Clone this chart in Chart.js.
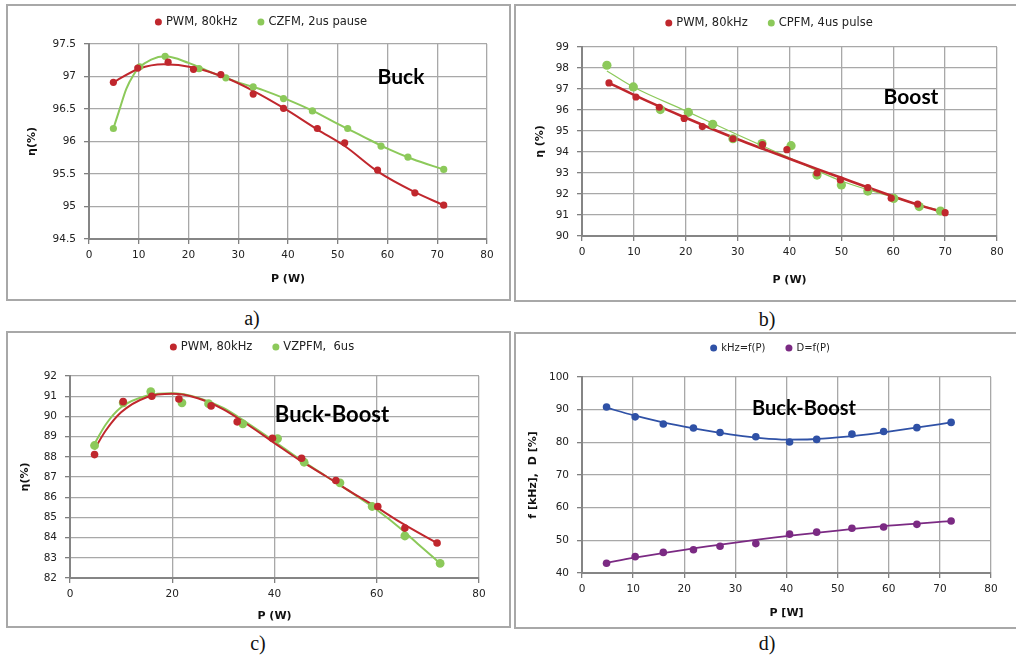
<!DOCTYPE html>
<html>
<head>
<meta charset="utf-8">
<script src="https://cdn.jsdelivr.net/npm/chart.js@4/dist/chart.umd.min.js"></script>
<style>
  body { margin: 0; background: #fff; width: 1016px; height: 657px; overflow: hidden; position: relative; }
  .box { position: absolute; border: 2px solid #a8a8a8; box-sizing: border-box; }
  canvas { position: absolute; }
  .cap { position: absolute; font-family: "Liberation Serif", serif; font-size: 20px; color: #111; transform: translate(-50%, -50%); }
</style>
</head>
<body>
<div class="box" style="left:6px;top:4px;width:505px;height:297px"></div>
<div class="box" style="left:514px;top:4px;width:510px;height:298px"></div>
<div class="box" style="left:6px;top:331px;width:505px;height:297px"></div>
<div class="box" style="left:514px;top:332px;width:510px;height:297px"></div>

<canvas id="cA" width="505" height="297" style="left:6px;top:4px"></canvas>
<canvas id="cB" width="502" height="298" style="left:514px;top:4px"></canvas>
<canvas id="cC" width="505" height="297" style="left:6px;top:331px"></canvas>
<canvas id="cD" width="502" height="297" style="left:514px;top:332px"></canvas>

<div class="cap" style="left:252px;top:318px">a)</div>
<div class="cap" style="left:767px;top:319px">b)</div>
<div class="cap" style="left:258px;top:643px">c)</div>
<div class="cap" style="left:767px;top:643px">d)</div>

<script>
// a) Buck
const buckP_pwm = [4.9, 9.8, 15.9, 21.0, 26.5, 33.0, 39.1, 45.9, 51.4, 58.0, 65.5, 71.3];
const buckEff_pwm = [96.91, 97.13, 97.22, 97.11, 97.03, 96.73, 96.51, 96.20, 95.98, 95.56, 95.21, 95.02];
const buckP_czfm = [4.9, 10.2, 15.3, 22.1, 27.5, 33.0, 39.1, 44.9, 52.0, 58.7, 64.1, 71.3];
const buckEff_czfm = [96.20, 97.15, 97.31, 97.12, 96.98, 96.84, 96.66, 96.47, 96.20, 95.93, 95.76, 95.57];
// trendlines
const buckTrendP_pwm = [4.9, 10, 15, 21, 27.5, 33, 39, 46, 51.4, 58, 65.5, 71.3];
const buckTrendEff_pwm = [96.91, 97.12, 97.19, 97.14, 96.98, 96.78, 96.52, 96.18, 95.93, 95.54, 95.22, 95.02];
const buckTrendP_czfm = [4.9, 6, 7.5, 9, 10, 12.5, 15.3, 20, 25, 30, 35, 40, 45, 50, 55, 60, 65, 71.3];
const buckTrendEff_czfm = [96.20, 96.46, 96.81, 97.03, 97.13, 97.26, 97.31, 97.21, 97.05, 96.91, 96.79, 96.64, 96.47, 96.27, 96.08, 95.89, 95.73, 95.57];

// b) Boost
const boostP_pwm = [5.2, 10.4, 14.9, 19.7, 23.2, 29.1, 34.8, 39.5, 45.3, 49.8, 55.1, 59.6, 64.7, 70.0];
const boostEff_pwm = [97.29, 96.62, 96.13, 95.60, 95.21, 94.63, 94.35, 94.11, 93.00, 92.67, 92.30, 91.80, 91.52, 91.11];
const boostP_cpfm = [4.8, 9.9, 15.1, 20.5, 25.2, 29.1, 34.7, 40.3, 45.3, 50.0, 55.1, 60.1, 65.0, 69.1];
const boostEff_cpfm = [98.13, 97.10, 96.02, 95.89, 95.32, 94.63, 94.40, 94.30, 92.90, 92.43, 92.14, 91.79, 91.40, 91.19];
const boostTrendP_pwm = [5.2, 10, 15, 20, 25, 30, 35, 40, 45, 50, 55, 60, 65, 70];
const boostTrendEff_pwm = [97.29, 96.72, 96.16, 95.63, 95.11, 94.61, 94.14, 93.68, 93.22, 92.77, 92.32, 91.88, 91.47, 91.10];
const boostTrendP_cpfm = [4.8, 10, 20, 30, 40, 50, 60, 69.1];
const boostTrendEff_cpfm = [97.86, 97.08, 95.96, 94.82, 93.72, 92.62, 91.85, 91.20];

// c) Buck-Boost efficiency
const bbP_pwm = [4.8, 10.4, 16.0, 21.3, 27.6, 32.7, 39.6, 45.3, 52.0, 60.2, 65.5, 71.8];
const bbEff_pwm = [88.11, 90.73, 91.00, 90.86, 90.52, 89.73, 88.92, 87.93, 86.83, 85.54, 84.47, 83.73];
const bbP_vz = [4.8, 10.4, 15.8, 21.9, 27.1, 33.8, 40.6, 45.8, 52.8, 59.1, 65.5, 72.4];
const bbEff_vz = [88.56, 90.67, 91.23, 90.67, 90.63, 89.63, 88.90, 87.73, 86.71, 85.54, 84.08, 82.72];
const bbTrendP_pwm = [4.8, 7, 10, 15, 20, 25, 30, 35, 40, 45, 50, 55, 60, 65, 71.8];
const bbTrendEff_pwm = [88.38, 89.3, 90.2, 90.95, 91.12, 90.9, 90.35, 89.55, 88.68, 87.82, 87.05, 86.25, 85.5, 84.7, 83.72];
const bbTrendP_vz = [4.8, 7, 10, 15, 20, 25, 30, 35, 40, 45, 50, 55, 60, 65, 68, 72.4];
const bbTrendEff_vz = [88.65, 89.6, 90.45, 91.02, 91.14, 90.93, 90.42, 89.62, 88.76, 87.87, 87.05, 86.24, 85.38, 84.38, 83.7, 82.72];

// d) Buck-Boost frequency / duty
const fdP = [4.8, 10.4, 15.9, 21.8, 27.0, 34.0, 40.6, 45.9, 52.8, 59.0, 65.5, 72.2];
const fdKhz = [90.8, 87.8, 85.6, 84.4, 83.0, 81.7, 80.1, 80.9, 82.5, 83.3, 84.5, 86.1];
const fdDuty = [43.0, 45.0, 46.3, 47.1, 48.2, 49.0, 51.9, 52.5, 53.7, 54.1, 54.9, 55.9];
const fdTrendP_khz = [4.8, 10, 15, 20, 25, 30, 35, 40, 45, 50, 55, 60, 65, 72.2];
const fdTrendKhz = [90.6, 88.3, 86.4, 84.8, 83.4, 82.2, 81.3, 80.85, 80.95, 81.5, 82.3, 83.3, 84.4, 86.1];
const fdTrendP_duty = [4.8, 10, 20, 30, 40, 50, 60, 72.2];
const fdTrendDuty = [43.1, 44.6, 47.1, 49.3, 51.3, 53.0, 54.5, 55.9];

const RED = '#c0272d', GREEN = '#8cc95a', BLUE = '#2f51a6', PURPLE = '#7b2a83';
const FONT = 'DejaVu Sans';

function xy(xs, ys) { return xs.map((x, i) => ({ x: x, y: ys[i] })); }

function pts(label, xs, ys, color, r) {
  return { label: label, data: xy(xs, ys), showLine: false, pointRadius: r,
           pointBackgroundColor: color, pointBorderWidth: 0, borderColor: color };
}
function trend(xs, ys, color, w) {
  return { label: '', data: xy(xs, ys), showLine: true, pointRadius: 0, borderColor: color,
           borderWidth: w, cubicInterpolationMode: 'monotone' };
}

// legend + big label drawn on top
function decor(d) {
  return {
    id: 'decor',
    afterDraw(chart) {
      const ctx = chart.ctx;
      ctx.save();
      ctx.font = d.legendSize + 'px "' + FONT + '"';
      ctx.textBaseline = 'middle';
      const items = chart.data.datasets.filter(ds => ds.label);
      const r = 3.5, gap = 4, space = 20;
      const widths = items.map(ds => r * 2 + gap + ctx.measureText(ds.label).width);
      const total = widths.reduce((a, b) => a + b, 0) + space * (items.length - 1);
      let x = d.legendX - total / 2;
      items.forEach((ds, i) => {
        ctx.fillStyle = ds.pointBackgroundColor;
        ctx.beginPath();
        ctx.arc(x + r, d.legendY, r, 0, Math.PI * 2);
        ctx.fill();
        ctx.fillStyle = '#222';
        ctx.textAlign = 'left';
        ctx.fillText(ds.label, x + r * 2 + gap, d.legendY + 0.5);
        x += widths[i] + space;
      });
      ctx.font = 'bold ' + d.noteSize + 'px Lato';
      ctx.fillStyle = '#000';
      ctx.textAlign = 'center';
      ctx.fillText(d.note, d.noteX, d.noteY);
      ctx.restore();
    }
  };
}

function makePanel(id, p) {
  const c = document.getElementById(id);
  const W = c.width, H = c.height;
  const tickFont = { family: FONT, size: 10.5 };
  const titleFont = { family: FONT, size: 11, weight: 'bold' };
  new Chart(c, {
    type: 'scatter',
    data: { datasets: p.datasets },
    options: {
      responsive: false,
      animation: false,
      devicePixelRatio: 1,
      layout: { padding: { top: p.area.top, right: W - p.area.right, left: 0, bottom: 0 } },
      plugins: { legend: { display: false }, tooltip: { enabled: false } },
      scales: {
        x: {
          type: 'linear', min: 0, max: 80,
          ticks: { stepSize: p.xStep, color: '#222', font: tickFont, padding: 5, maxRotation: 0 },
          grid: { color: '#a8a8a8', lineWidth: 1.3, tickLength: 5, tickColor: '#7f7f7f' },
          border: { color: '#858585', width: 2 },
          title: { display: true, text: p.xTitle, color: '#111', font: titleFont,
                   padding: { top: 0, bottom: p.xTitleGap } },
          afterFit: s => { s.height = H - p.area.bottom; }
        },
        y: {
          min: p.yMin, max: p.yMax,
          ticks: { stepSize: p.yStep, color: '#222', font: tickFont, padding: 8,
                   callback: v => String(+v.toFixed(2)) },
          grid: { color: '#a8a8a8', lineWidth: 1.3, tickLength: 5, tickColor: '#7f7f7f' },
          border: { color: '#858585', width: 2 },
          title: { display: true, text: p.yTitle, color: '#111', font: titleFont,
                   padding: { top: p.yTitleGap, bottom: 0 } },
          afterFit: s => { s.width = p.area.left; }
        }
      }
    },
    plugins: [decor(p.decor)]
  });
}

makePanel('cA', {
  area: { left: 83, right: 481, top: 40, bottom: 235 },
  yMin: 94.5, yMax: 97.5, yStep: 0.5, xStep: 10,
  xTitle: 'P (W)', yTitle: 'η(%)', xTitleGap: 15, yTitleGap: 20,
  datasets: [
    pts('PWM, 80kHz', buckP_pwm, buckEff_pwm, RED, 3.6),
    pts('CZFM, 2us pause', buckP_czfm, buckEff_czfm, GREEN, 3.6),
    trend(buckTrendP_pwm, buckTrendEff_pwm, RED, 2),
    trend(buckTrendP_czfm, buckTrendEff_czfm, GREEN, 2)
  ],
  decor: { legendX: 255, legendY: 18, legendSize: 11.5, note: 'Buck', noteX: 395, noteY: 73, noteSize: 21 }
});

makePanel('cB', {
  area: { left: 68, right: 483, top: 43, bottom: 232 },
  yMin: 90, yMax: 99, yStep: 1, xStep: 10,
  xTitle: 'P (W)', yTitle: 'η (%)', xTitleGap: 15, yTitleGap: 20,
  datasets: [
    pts('PWM, 80kHz', boostP_pwm, boostEff_pwm, RED, 3.6),
    pts('CPFM, 4us pulse', boostP_cpfm, boostEff_cpfm, GREEN, 4.6),
    trend(boostTrendP_pwm, boostTrendEff_pwm, RED, 2.6),
    trend(boostTrendP_cpfm, boostTrendEff_cpfm, GREEN, 1.2)
  ],
  decor: { legendX: 255, legendY: 19, legendSize: 11.5, note: 'Boost', noteX: 397, noteY: 93, noteSize: 21 }
});

makePanel('cC', {
  area: { left: 64, right: 473, top: 45, bottom: 247 },
  yMin: 82, yMax: 92, yStep: 1, xStep: 20,
  xTitle: 'P (W)', yTitle: 'η(%)', xTitleGap: 5, yTitleGap: 13,
  datasets: [
    pts('PWM, 80kHz', bbP_pwm, bbEff_pwm, RED, 3.8),
    pts('VZPFM,  6us', bbP_vz, bbEff_vz, GREEN, 4.4),
    trend(bbTrendP_pwm, bbTrendEff_pwm, RED, 2),
    trend(bbTrendP_vz, bbTrendEff_vz, GREEN, 2)
  ],
  decor: { legendX: 256, legendY: 16, legendSize: 11.5, note: 'Buck-Boost', noteX: 326, noteY: 84, noteSize: 22 }
});

makePanel('cD', {
  area: { left: 68, right: 477, top: 45, bottom: 241 },
  yMin: 40, yMax: 100, yStep: 10, xStep: 10,
  xTitle: 'P [W]', yTitle: 'f [kHz],  D [%]', xTitleGap: 9, yTitleGap: 13,
  datasets: [
    pts('kHz=f(P)', fdP, fdKhz, BLUE, 3.8),
    pts('D=f(P)', fdP, fdDuty, PURPLE, 3.8),
    trend(fdTrendP_khz, fdTrendKhz, BLUE, 1.8),
    trend(fdTrendP_duty, fdTrendDuty, PURPLE, 1.8)
  ],
  decor: { legendX: 256, legendY: 16, legendSize: 10, note: 'Buck-Boost', noteX: 290, noteY: 77, noteSize: 20 }
});
</script>
</body>
</html>
